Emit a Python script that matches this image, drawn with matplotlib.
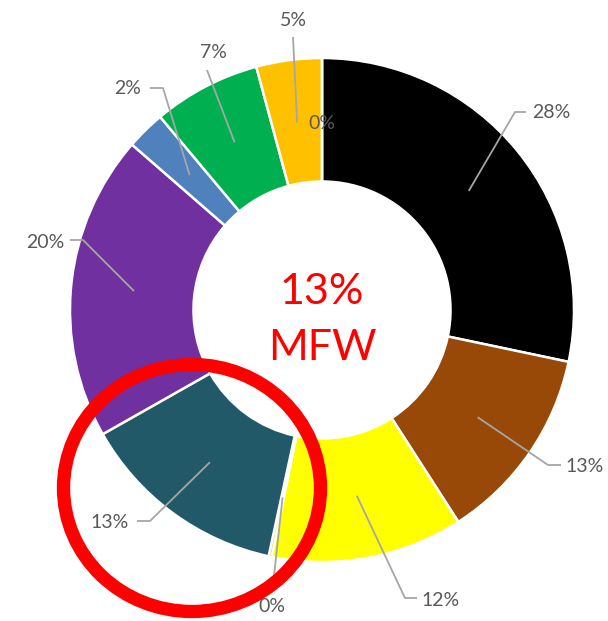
import numpy as np
import matplotlib
matplotlib.use("Agg")
import matplotlib.pyplot as plt
from matplotlib.patches import Ellipse

# ---- data ----
categories = ["A", "B", "C", "D", "E", "F", "G", "H", "I", "J"]
values = [28.3, 12.6, 12.3, 0.2, 13.4, 19.6, 2.5, 6.9, 4.2, 0.0]
labels = ["28%", "13%", "12%", "0%", "13%", "20%", "2%", "7%", "5%", "0%"]
colors = ["#000000", "#984807", "#FFFF00", "#FFC000", "#215968",
          "#7030A0", "#4F81BD", "#00B050", "#FFC000", "#A5A5A5"]
center_text = ["13%", "MFW"]

W, H = 608, 621
CX, CY, R = 322, 310, 252.0

def px(x, y):
    return ((x - CX) / R, (CY - y) / R)

fig = plt.figure(figsize=(W / 100, H / 100), dpi=100)
ax = fig.add_axes([0, 0, 1, 1])

wedges, _ = ax.pie(values, colors=colors, startangle=90, counterclock=False,
                   radius=1.0,
                   wedgeprops=dict(width=0.49, edgecolor="white", linewidth=1.8))

x0, y0 = px(0, H)
x1, y1 = px(W, 0)
ax.set_xlim(x0, x1)
ax.set_ylim(y0, y1)
ax.set_aspect("equal")
ax.axis("off")

font = "Lato"
gray_txt = "#595959"
gray_line = "#A6A6A6"
lab_fs = 14

# label layout: (text px position, elbow px, horizontal end px or None, start radius)
layout = [
    ((551, 112), (515, 112), (526, 112), 0.75),
    ((585, 467), (548, 465), (561, 465), 0.75),
    ((441, 601), (405, 598), (417, 598), 0.75),
    ((272, 606), (273, 585), None, 0.76),
    ((110, 523), (150, 521), (137, 521), 0.75),
    ((45, 242), (83, 240), (70, 240), 0.75),
    ((128, 88), (163, 88), (150, 88), 0.75),
    ((213, 53), (207, 70), None, 0.75),
    ((293, 20), (293, 37), None, 0.75),
    (None, None, None, 0.74),
]

for w, lab, (tpos, elbow, hend, rs) in zip(wedges, labels, layout):
    mid = np.deg2rad((w.theta1 + w.theta2) / 2)
    sx, sy = rs * np.cos(mid), rs * np.sin(mid)
    if tpos is None:
        ax.text(sx, sy, lab, ha="center", va="center", fontsize=lab_fs,
                color=gray_txt, family=font)
        continue
    ex, ey = px(*elbow)
    xs = [sx, ex]
    ys = [sy, ey]
    if hend is not None:
        hx, hy = px(*hend)
        xs.append(hx)
        ys.append(hy)
    ax.plot(xs, ys, color=gray_line, lw=1.3, solid_capstyle="butt")
    tx, ty = px(*tpos)
    ax.text(tx, ty, lab, ha="center", va="center", fontsize=lab_fs,
            color=gray_txt, family=font)

# center text
ax.text(*px(322, 292), center_text[0], ha="center", va="center",
        fontsize=31, color="#FF0000", family=font)
ax.text(*px(322, 348), center_text[1], ha="center", va="center",
        fontsize=31, color="#FF0000", family=font)

# red highlight circle
cx, cy = px(192, 488)
ax.add_patch(Ellipse((cx, cy), 257 / R, 247 / R, fill=False,
                     edgecolor="#FF0000", linewidth=9.6, zorder=5))

fig.savefig("out.png", dpi=100)
